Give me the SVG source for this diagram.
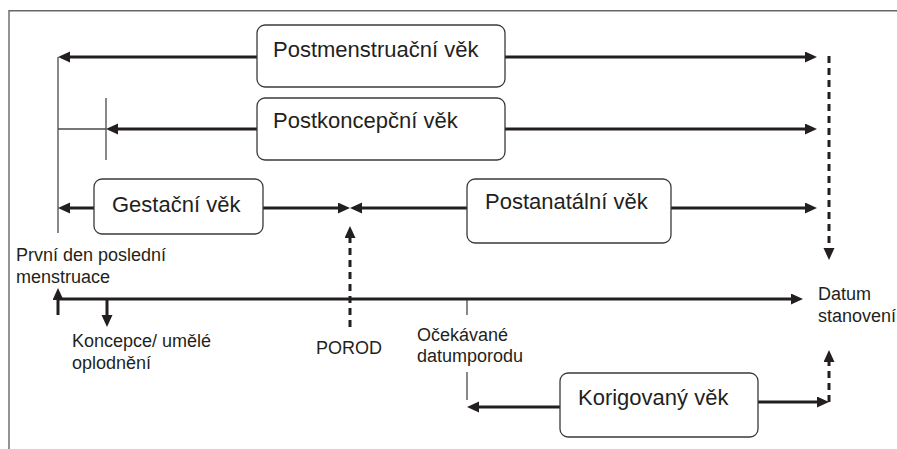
<svg xmlns="http://www.w3.org/2000/svg" width="897" height="449" viewBox="0 0 897 449">
<defs>
<marker id="ah" markerUnits="userSpaceOnUse" markerWidth="13" markerHeight="12" refX="6" refY="5.5" orient="auto"><path d="M0,0 L12,5.5 L0,11 z" fill="#231f20"/></marker>
<style>
.box{fill:#fff;stroke:#3a3a3a;stroke-width:1.3}
.lbl{font-family:"Liberation Sans",Arial,sans-serif;font-size:22px;fill:#231f20}
.sm{font-family:"Liberation Sans",Arial,sans-serif;font-size:18px;fill:#231f20}
.thick{stroke:#231f20;stroke-width:3;fill:none}
.arr{marker-end:url(#ah)}
.dash{stroke:#231f20;stroke-width:3;stroke-dasharray:7 5;fill:none}
.thin{stroke:#4a4a4a;stroke-width:1.3;fill:none}
.frame{stroke:#666;stroke-width:1.4;fill:none}
</style>
</defs>
<rect width="897" height="449" fill="#fff"/>
<path class="frame" d="M9,449 V10.7 H897"/>
<g id="connectors">
<path class="thin" d="M58,57 V233"/>
<path class="thin" d="M106,98 V160"/>
<path class="thin" d="M58,129 H106"/>
<path class="thin" d="M467,299 V315"/>
<path class="thin" d="M467,372 V400"/>
<path class="thick arr" d="M257,57 H64"/>
<path class="thick arr" d="M505,57 H811"/>
<path class="thick arr" d="M257,129 H112"/>
<path class="thick arr" d="M505,129 H811"/>
<path class="thick arr" d="M94,208 H64"/>
<path class="thick arr" d="M263,208 H344"/>
<path class="thick arr" d="M467,208 H356"/>
<path class="thick arr" d="M671,208 H811"/>
<path class="thick arr" d="M58,299 H797"/>
<path class="thick arr" d="M58,315 V294"/>
<path class="thick arr" d="M107,299 V321"/>
<path class="dash arr" d="M350,327 V232"/>
<path class="dash arr" d="M829,56 V254"/>
<path class="thick arr" d="M560,407 H473"/>
<path class="thick arr" d="M758,402 H823"/>
<path class="dash arr" d="M829,402 V356"/>
</g>
<g id="postmenstrual">
<rect class="box" x="257" y="25" width="248" height="62" rx="8"/>
<text class="lbl" x="273" y="57">Postmenstruační věk</text>
</g>
<g id="postconceptional">
<rect class="box" x="257" y="98" width="248" height="62" rx="8"/>
<text class="lbl" x="273" y="128">Postkoncepční věk</text>
</g>
<g id="gestational">
<rect class="box" x="94" y="179" width="169" height="55" rx="8"/>
<text class="lbl" x="112" y="212">Gestační věk</text>
</g>
<g id="postnatal">
<rect class="box" x="467" y="179" width="204" height="64" rx="8"/>
<text class="lbl" x="485" y="209">Postanatální věk</text>
</g>
<g id="corrected">
<rect class="box" x="560" y="373" width="198" height="64" rx="8"/>
<text class="lbl" x="578" y="405">Korigovaný věk</text>
</g>
<g id="lmp">
<text class="sm" x="16" y="261">První den poslední</text>
<text class="sm" x="16" y="283">menstruace</text>
</g>
<g id="conception">
<text class="sm" x="72" y="347">Koncepce/ umělé</text>
<text class="sm" x="72" y="369">oplodnění</text>
</g>
<g id="birth">
<text class="sm" x="316" y="354">POROD</text>
</g>
<g id="due-date">
<text class="sm" x="417" y="341">Očekávané</text>
<text class="sm" x="417" y="362">datumporodu</text>
</g>
<g id="assessment-date">
<text class="sm" x="818" y="300">Datum</text>
<text class="sm" x="818" y="322">stanovení</text>
</g>
</svg>
